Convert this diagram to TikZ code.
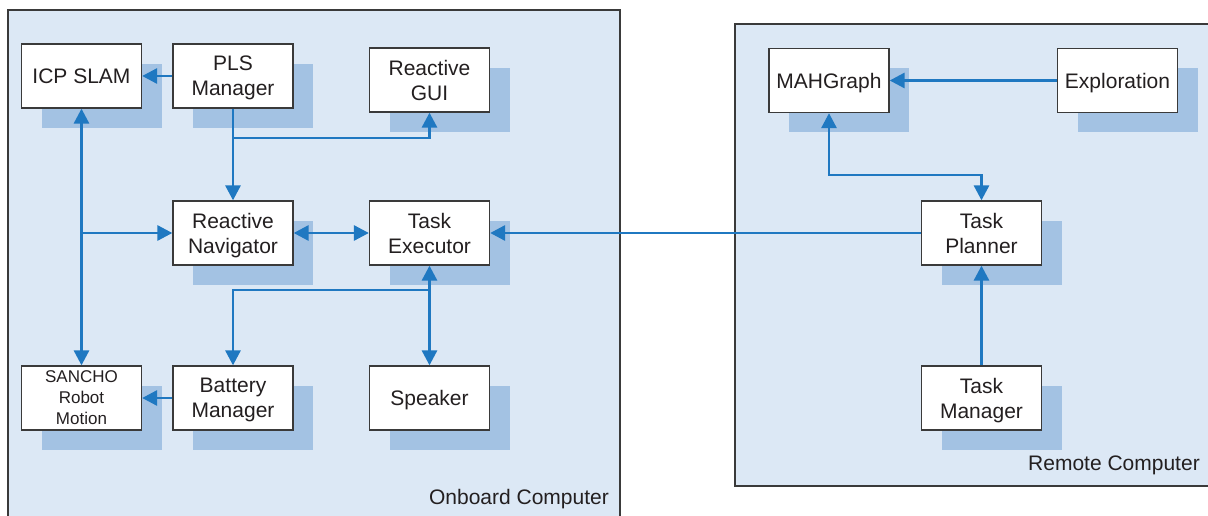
\documentclass[tikz,border=0pt]{standalone}
\usepackage{fontspec}
\setmainfont{Liberation Sans}
\usetikzlibrary{arrows.meta,shadows}
\definecolor{panelfill}{HTML}{DCE8F5}
\definecolor{shadowfill}{HTML}{A3C2E3}
\definecolor{linkblue}{HTML}{1F78C1}
\definecolor{edgegray}{HTML}{3A3A3A}
\definecolor{inkdark}{HTML}{231F20}
\tikzset{
  module/.style={draw=edgegray, line width=1.3pt, fill=white,
    minimum width=120pt, minimum height=64pt, inner sep=0pt,
    align=center, text=inkdark, text depth=0pt,
    font=\fontsize{21}{25}\selectfont,
    general shadow={fill=shadowfill, draw=none, shadow xshift=20pt, shadow yshift=-20pt}},
  link/.style={draw=linkblue, line width=2.9pt,
    arrows={-Triangle[length=15pt,width=15pt]}},
  biglink/.style={link, arrows={Triangle[length=15pt,width=15pt]-Triangle[length=15pt,width=15pt]}},
  panel/.style={fill=panelfill, draw=none},
  panelborder/.style={draw=edgegray, line width=1.5pt},
  caption/.style={text=inkdark, font=\fontsize{21}{25}\selectfont, inner sep=0pt}
}
\begin{document}
\begin{tikzpicture}[x=1pt, y=-1pt]
\useasboundingbox (0,0) rectangle (1208,516);

% computer panels
\fill[panel] (8,10) rectangle (620,516);
\draw[panelborder] (8,516) -- (8,10) -- (620,10) -- (620,516);
\fill[panel] (735,24) rectangle (1208,486);
\draw[panelborder] (1208,24) -- (735,24) -- (735,486) -- (1208,486);

\node[caption] (onboard) at (519,499) {Onboard Computer};
\node[caption] (remote) at (1114,465) {Remote Computer};

% onboard modules
\node[module] (icp) at (81.5,76) {ICP SLAM};
\node[module] (pls) at (233,76) {PLS\\Manager};
\node[module] (gui) at (429.5,80) {Reactive\\GUI};
\node[module] (nav) at (233,233) {Reactive\\Navigator};
\node[module] (exec) at (429.5,233) {Task\\Executor};
\node[module, font=\fontsize{17}{21}\selectfont] (sancho) at (81.5,398) {SANCHO\\Robot\\Motion};
\node[module] (battery) at (233,398) {Battery\\Manager};
\node[module] (speaker) at (429.5,398) {Speaker};

% remote modules
\node[module] (mah) at (829,80.5) {MAHGraph};
\node[module] (explore) at (1117.5,80.5) {Exploration};
\node[module] (planner) at (981.5,233) {Task\\Planner};
\node[module] (manager) at (981.5,398) {Task\\Manager};

% junction points
\coordinate (plsjoin) at (233,138);
\coordinate (slamjoin) at (81.5,233);
\coordinate (execjoin) at (429.5,290);
\coordinate (mahjoin) at (829,175);

% onboard links
\draw[link] (pls.west) -- (icp.east);
\draw[link] (pls.south) -- (nav.north);
\draw[link] (plsjoin) -| (gui.south);
\draw[biglink] (icp.south) -- (sancho.north);
\draw[link] (slamjoin) -- (nav.west);
\draw[biglink] (nav.east) -- (exec.west);
\draw[biglink] (exec.south) -- (speaker.north);
\draw[link] (execjoin) -| (battery.north);
\draw[link] (battery.west) -- (sancho.east);

% remote links
\draw[link] (planner.west) -- (exec.east);
\draw[link] (explore.west) -- (mah.east);
\draw[biglink] (mah.south) -- (mahjoin) -| (planner.north);
\draw[link] (manager.north) -- (planner.south);
\end{tikzpicture}
\end{document}
